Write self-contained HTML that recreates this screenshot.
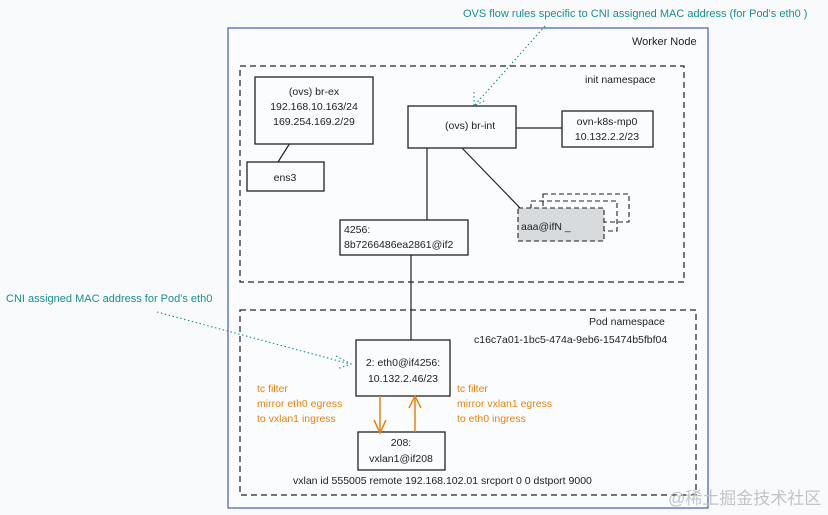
<!DOCTYPE html>
<html><head><meta charset="utf-8"><style>
body{margin:0;background:#f9fafb;}
svg{display:block}
text{font-family:"Liberation Sans","Noto Sans CJK SC",sans-serif;font-size:10.5px;fill:#222}
.t{fill:#17908f}.o{fill:#e8830f}
</style></head><body>
<svg width="828" height="515" viewBox="0 0 828 515" xmlns="http://www.w3.org/2000/svg">
<rect x="0" y="0" width="828" height="515" fill="#f9fafb"/>
<rect x="228" y="28" width="480" height="480" fill="#fbfcfd" stroke="#5565b5" stroke-width="1.3"/>
<text x="632" y="45" style="font-size:11px">Worker Node</text>
<rect x="240" y="66" width="444" height="216" fill="none" stroke="#222" stroke-width="1.2" stroke-dasharray="6,4"/>
<text x="585" y="83">init namespace</text>
<rect x="240" y="310" width="456" height="185" fill="none" stroke="#222" stroke-width="1.2" stroke-dasharray="6,4"/>
<text x="589" y="325">Pod namespace</text>
<text x="474" y="343">c16c7a01-1bc5-474a-9eb6-15474b5fbf04</text>
<g stroke="#222" stroke-width="1.2">
<line x1="290" y1="143" x2="278" y2="162"/>
<line x1="490" y1="128" x2="562" y2="128"/>
<line x1="427" y1="148" x2="427" y2="220"/>
<line x1="462" y1="148" x2="522" y2="210"/>
<line x1="411" y1="255" x2="411" y2="340"/>
</g>
<g fill="#fbfcfd" stroke="#222" stroke-width="1.3">
<rect x="255" y="77" width="118" height="67"/>
<rect x="247" y="162" width="77" height="29"/>
<rect x="408" y="106" width="108" height="42"/>
<rect x="562" y="111" width="91" height="36"/>
<rect x="340" y="220" width="128" height="35"/>
<rect x="356" y="340" width="94" height="56"/>
<rect x="358" y="432" width="87" height="38"/>
</g>
<g fill="none" stroke="#222" stroke-width="1.1" stroke-dasharray="5,3">
<rect x="543" y="194" width="86" height="28"/>
<rect x="531" y="201" width="86" height="30"/>
</g>
<rect x="518" y="208" width="86" height="33" fill="#d8dbde" stroke="#222" stroke-width="1.1" stroke-dasharray="5,3"/>
<text x="314" y="95" text-anchor="middle">(ovs) br-ex</text>
<text x="314" y="110" text-anchor="middle">192.168.10.163/24</text>
<text x="314" y="125" text-anchor="middle">169.254.169.2/29</text>
<text x="285" y="181" text-anchor="middle">ens3</text>
<text x="445" y="129">(ovs) br-int</text>
<text x="607" y="125" text-anchor="middle">ovn-k8s-mp0</text>
<text x="607" y="140" text-anchor="middle">10.132.2.2/23</text>
<text x="344" y="233">4256:</text>
<text x="344" y="248">8b7266486ea2861@if2</text>
<text x="521" y="230">aaa@ifN _</text>
<text x="403" y="366" text-anchor="middle">2: eth0@if4256:</text>
<text x="403" y="382" text-anchor="middle">10.132.2.46/23</text>
<text x="401" y="446" text-anchor="middle">208:</text>
<text x="401" y="462" text-anchor="middle">vxlan1@if208</text>
<text x="293" y="484">vxlan id 555005 remote 192.168.102.01 srcport 0 0 dstport 9000</text>
<g stroke="#e8830f" stroke-width="1.5" fill="none">
<line x1="380" y1="396" x2="380" y2="432"/><polyline points="374,420 380,433 386,420"/>
<line x1="415" y1="432" x2="415" y2="396"/><polyline points="409,408 415,396 421,408"/>
</g>
<text class="o" x="257" y="392">tc filter</text>
<text class="o" x="257" y="407">mirror eth0 egress</text>
<text class="o" x="257" y="422">to vxlan1 ingress</text>
<text class="o" x="457" y="392">tc filter</text>
<text class="o" x="457" y="407">mirror vxlan1 egress</text>
<text class="o" x="457" y="422">to eth0 ingress</text>
<text class="t" x="463" y="17" style="font-size:11px">OVS flow rules specific to CNI assigned MAC address (for Pod's eth0 )</text>
<g stroke="#17908f" stroke-width="1.1" stroke-dasharray="1.5,2.5" fill="none">
<line x1="545" y1="26" x2="474" y2="106"/><polyline points="474,92 474,106 486,100"/>
<line x1="157" y1="312" x2="350" y2="364"/><polyline points="336,356 351,364 337,369"/>
</g>
<text class="t" x="6" y="302" style="font-size:11px">CNI assigned MAC address for Pod's eth0</text>
<text x="668" y="504" style="font-size:17px;fill:#c4c4c4">@稀土掘金技术社区</text>
</svg>
</body></html>
